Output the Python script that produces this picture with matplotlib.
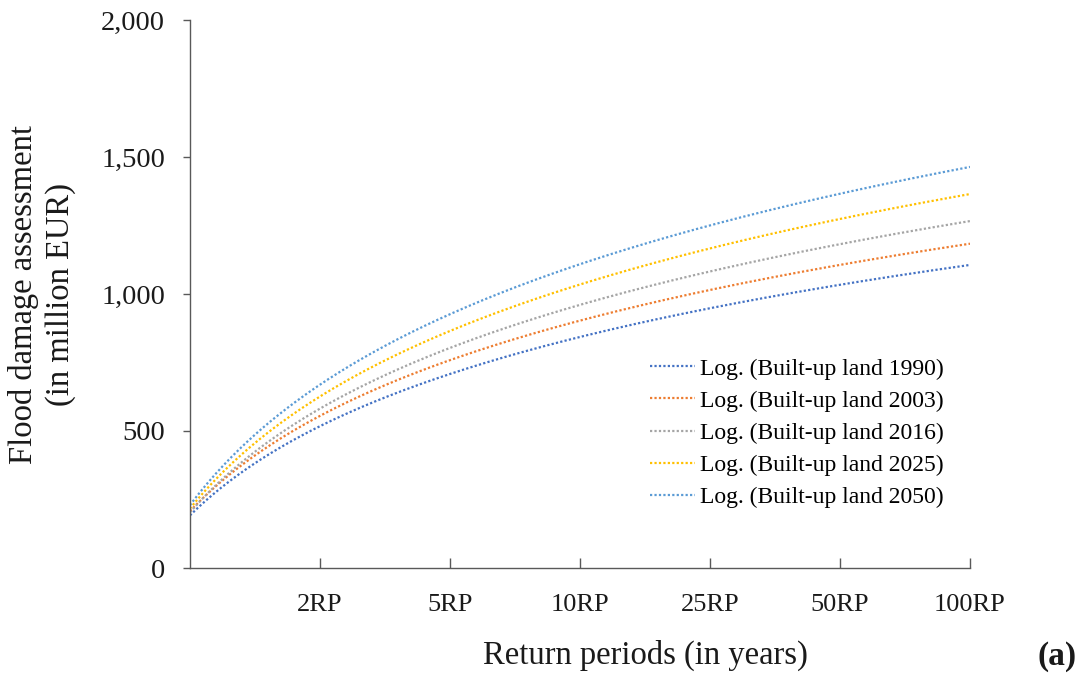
import numpy as np
import matplotlib
matplotlib.use("Agg")
import matplotlib.pyplot as plt
from matplotlib.ticker import FuncFormatter

plt.rcParams['font.family'] = ['Liberation Serif', 'DejaVu Serif']

# category positions (first category has no label)
categories = ['', '2RP', '5RP', '10RP', '25RP', '50RP', '100RP']
positions = [1, 2, 3, 4, 5, 6, 7]

# trendline values read at each category position (million EUR)
y1990 = [192, 518, 708, 843, 948, 1034, 1106]
y2003 = [208, 555, 758, 903, 1015, 1106, 1184]
y2016 = [205, 580, 802, 960, 1082, 1182, 1268]
y2025 = [217, 626, 865, 1035, 1167, 1274, 1364]
y2050 = [230, 668, 927, 1109, 1250, 1366, 1464]

labels = ['Log. (Built-up land 1990)', 'Log. (Built-up land 2003)',
          'Log. (Built-up land 2016)', 'Log. (Built-up land 2025)',
          'Log. (Built-up land 2050)']
colors = ['#4472C4', '#ED7D31', '#A5A5A5', '#FFC000', '#5B9BD5']
series = [y1990, y2003, y2016, y2025, y2050]

W, H = 1091, 679
fig = plt.figure(figsize=(W / 100, H / 100), dpi=100)
ax = fig.add_axes([190 / W, 1 - 568 / H, (970 - 190) / W, (568 - 20) / H])

xs = np.linspace(positions[0], positions[-1], 300)
x_arr = np.array(positions, dtype=float)
for ys, lab, c in zip(series, labels, colors):
    # logarithmic trendline fitted to the values (as in the source chart)
    a, b = np.polyfit(np.log(x_arr), np.array(ys, dtype=float), 1)
    ax.plot(xs, a * np.log(xs) + b, linestyle=(0, (1, 1)), color=c,
            linewidth=1.6, label=lab)

ax.set_xlim(positions[0], positions[-1])
ax.set_ylim(0, 2000)
ax.set_yticks([0, 500, 1000, 1500, 2000])
ax.yaxis.set_major_formatter(FuncFormatter(lambda v, p: f'{int(v):,}'))
ax.set_xticks(positions[1:])
ax.set_xticklabels(categories[1:])

for s in ['top', 'right']:
    ax.spines[s].set_visible(False)
for s in ['left', 'bottom']:
    ax.spines[s].set_color('#595959')
    ax.spines[s].set_linewidth(1.0)

ax.tick_params(axis='y', direction='out', length=5, width=1, color='#595959',
               labelsize=20.5, pad=13, labelcolor='#1a1a1a')
ax.tick_params(axis='x', direction='in', length=7, width=1, color='#595959',
               labelsize=19, pad=19, labelcolor='#1a1a1a')

fig.text(645 / W, 1 - 655 / H, 'Return periods (in years)', ha='center',
         va='center', fontsize=23.5, color='#1a1a1a')
fig.text(42 / W, 1 - 295 / H, 'Flood damage assessment\n(in million EUR)',
         ha='center', va='center', rotation=90, fontsize=23.5,
         multialignment='center', color='#1a1a1a', linespacing=1.25)
fig.text(1057 / W, 1 - 657 / H, '(a)', ha='center', va='center',
         fontsize=24, fontweight='bold', color='#1a1a1a')

leg = ax.legend(loc='upper left', bbox_to_anchor=(650 / W, 1 - 358 / H),
                bbox_transform=fig.transFigure, frameon=False, fontsize=17,
                handlelength=1.9, handletextpad=0.2, labelspacing=0.45,
                borderaxespad=0, borderpad=0)

fig.savefig('out.png', dpi=100)
